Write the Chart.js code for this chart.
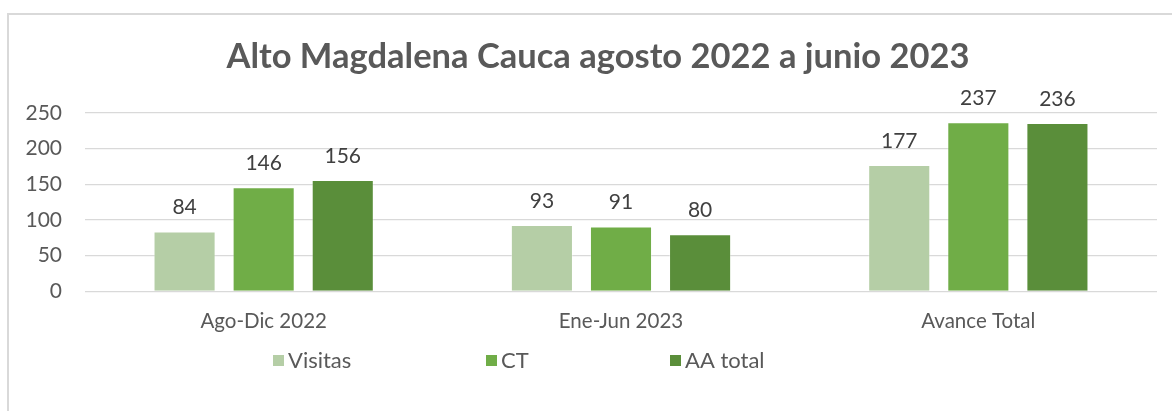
<!DOCTYPE html>
<html>
<head>
<meta charset="utf-8">
<script src="https://cdn.jsdelivr.net/npm/chart.js@4.4.0/dist/chart.umd.min.js"></script>
<style>
    html, body { margin: 0; padding: 0; background: #ffffff; overflow: hidden; }
    #wrap { position: relative; width: 1172px; height: 411px; overflow: hidden; }
    #frame { position: absolute; left: 7px; top: 13px; width: 1300px; height: 600px;
             border-left: 2px solid #d9d9d9; border-top: 2px solid #d9d9d9; }
    #chart { position: absolute; left: 0; top: 0; }
</style>
</head>
<body>
<div id="wrap">
    <div id="frame"></div>
    <canvas id="chart" width="1172" height="411"></canvas>
</div>
<script>
// Chart data
const chartTitle = 'Alto Magdalena Cauca agosto 2022 a junio 2023';
const categories = ['Ago-Dic 2022', 'Ene-Jun 2023', 'Avance Total'];
const seriesNames = ['Visitas', 'CT', 'AA total'];
const visitas = [84, 93, 177];
const ct = [146, 91, 237];
const aaTotal = [156, 80, 236];
const yTicks = [0, 50, 100, 150, 200, 250];

const colors = ['#b5cea6', '#70ad47', '#5a8e3a'];
const FONT = 'Lato';

// Title drawn over the whole frame (Excel centres it on the chart object, not the plot)
const frameTitle = {
    id: 'frameTitle',
    afterDraw(chart) {
        const ctx = chart.ctx;
        ctx.save();
        ctx.font = 'bold 34.5px ' + FONT;
        ctx.fillStyle = '#595959';
        ctx.textAlign = 'center';
        ctx.textBaseline = 'middle';
        ctx.fillText(chartTitle, 598, 57);
        ctx.restore();
    }
};

// Draws the value above each bar
const valueLabels = {
    id: 'valueLabels',
    afterDatasetsDraw(chart) {
        const ctx = chart.ctx;
        ctx.save();
        ctx.font = '21px ' + FONT;
        ctx.fillStyle = '#404040';
        ctx.textAlign = 'center';
        ctx.textBaseline = 'alphabetic';
        chart.data.datasets.forEach((ds, i) => {
            chart.getDatasetMeta(i).data.forEach((bar, j) => {
                ctx.fillText(String(ds.data[j]), bar.x, bar.y - 17);
            });
        });
        ctx.restore();
    }
};

// Excel-style legend spread across the bottom
const wideLegend = {
    id: 'wideLegend',
    afterDraw(chart) {
        const ctx = chart.ctx;
        const boxX = [273, 486, 670];
        const y = 361;
        ctx.save();
        ctx.font = '22px ' + FONT;
        ctx.textBaseline = 'middle';
        ctx.textAlign = 'left';
        chart.data.datasets.forEach((ds, i) => {
            ctx.fillStyle = ds.backgroundColor;
            ctx.fillRect(boxX[i], y - 6, 11, 11);
            ctx.fillStyle = '#595959';
            ctx.fillText(ds.label, boxX[i] + 15, y);
        });
        ctx.restore();
    }
};

const allSeries = [visitas, ct, aaTotal];

new Chart(document.getElementById('chart').getContext('2d'), {
    type: 'bar',
    data: {
        labels: categories,
        datasets: seriesNames.map((name, i) => ({
            label: name,
            data: allSeries[i],
            backgroundColor: colors[i],
            borderColor: 'rgba(255,255,255,0.35)',
            borderWidth: 1,
            categoryPercentage: 0.664,
            barPercentage: 0.785
        }))
    },
    options: {
        responsive: false,
        animation: false,
        layout: {
            padding: { left: 0, right: 15, top: 113, bottom: 59 }
        },
        plugins: {
            legend: { display: false },
            tooltip: { enabled: false },
            title: { display: false }
        },
        scales: {
            x: {
                grid: { display: false, drawTicks: false },
                border: { display: false },
                ticks: {
                    color: '#595959',
                    font: { family: FONT, size: 20.5 },
                    padding: 18
                }
            },
            y: {
                min: 0,
                max: 250,
                afterFit: (scale) => { scale.width = 85; },
                afterBuildTicks: (scale) => {
                    scale.ticks = yTicks.map(v => ({ value: v }));
                },
                grid: { color: '#d9d9d9', lineWidth: 1.3, drawTicks: false },
                border: { display: false },
                ticks: {
                    color: '#595959',
                    font: { family: FONT, size: 21 },
                    padding: 23
                }
            }
        }
    },
    plugins: [frameTitle, valueLabels, wideLegend]
});
</script>
</body>
</html>
